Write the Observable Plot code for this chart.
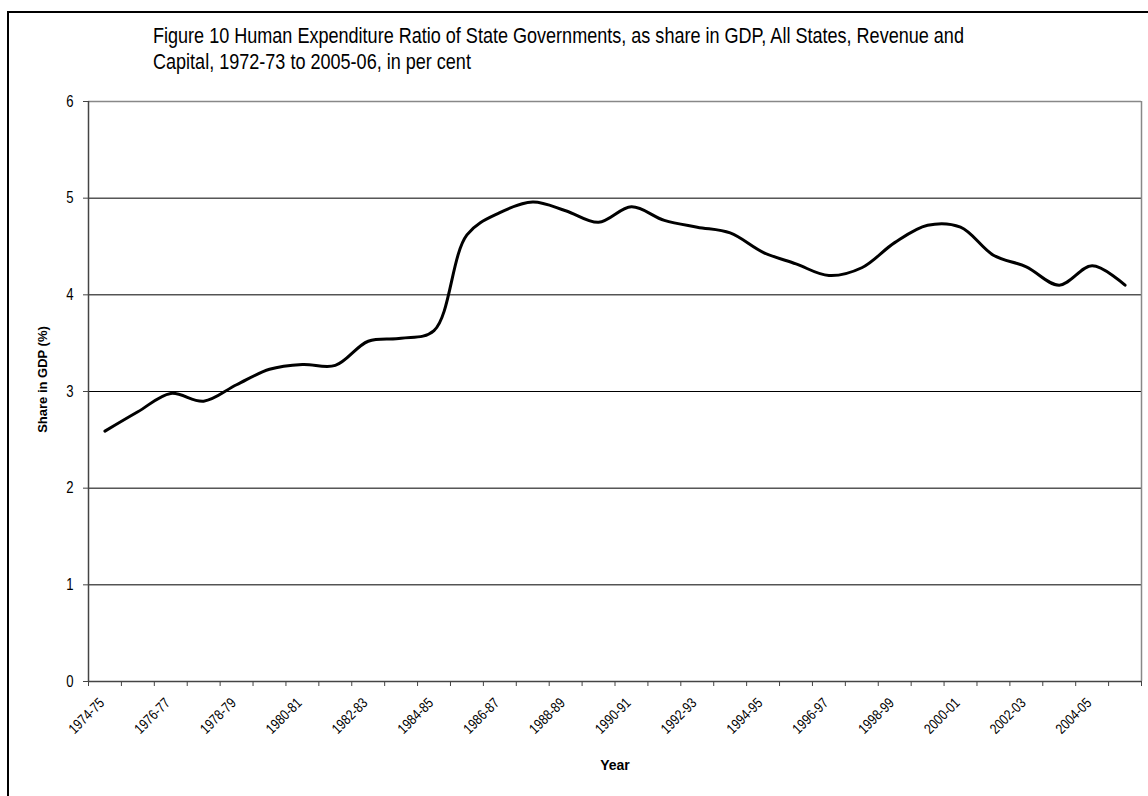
<!DOCTYPE html>
<html>
<head>
<meta charset="utf-8">
<script src="https://cdn.jsdelivr.net/npm/d3@7"></script>
<script src="https://cdn.jsdelivr.net/npm/@observablehq/plot@0.6"></script>
<style>
  html, body { margin: 0; padding: 0; background: #fff; }
  #wrap { position: relative; width: 1148px; height: 796px; overflow: hidden; }
  #frame { position: absolute; left: 7px; top: 11px; width: 1200px; height: 900px;
           border-left: 2px solid #000; border-top: 2px solid #000; }
  #title { position: absolute; left: 153px; top: 23px; font-family: "Liberation Sans", Arial, sans-serif;
           font-size: 22px; line-height: 26px; color: #000; white-space: nowrap;
           transform: scaleX(0.82); transform-origin: 0 0; }
  #chart { position: absolute; left: 0; top: 0; }
</style>
</head>
<body>
<div id="wrap">
  <div id="frame"></div>
  <div id="chart"></div>
  <div id="title">Figure 10 Human Expenditure Ratio of State Governments, as share in GDP, All States, Revenue and<br>Capital, 1972-73 to 2005-06, in per cent</div>
</div>
<script>
const years = ["1974-75","1975-76","1976-77","1977-78","1978-79","1979-80","1980-81","1981-82",
  "1982-83","1983-84","1984-85","1985-86","1986-87","1987-88","1988-89","1989-90",
  "1990-91","1991-92","1992-93","1993-94","1994-95","1995-96","1996-97","1997-98",
  "1998-99","1999-00","2000-01","2001-02","2002-03","2003-04","2004-05","2005-06"];
const share = [2.59, 2.79, 2.98, 2.90, 3.07, 3.23, 3.28, 3.27,
  3.52, 3.55, 3.63, 4.62, 4.85, 4.96, 4.87, 4.75,
  4.91, 4.77, 4.70, 4.64, 4.44, 4.32, 4.20, 4.28,
  4.54, 4.72, 4.70, 4.41, 4.29, 4.10, 4.30, 4.10];
const yTicks = [0, 1, 2, 3, 4, 5, 6];
const gridLines = [1, 2, 3, 4, 5];

const data = years.map((year, i) => ({i, year, share: share[i]}));
const boundaries = d3.range(years.length + 1).map(k => k - 0.5);
const labelIdx = d3.range(0, years.length, 2);

const sans = "'Liberation Sans', Arial, sans-serif";
const chart = Plot.plot({
  width: 1148,
  height: 796,
  marginLeft: 88,
  marginRight: 7,
  marginTop: 101,
  marginBottom: 115,
  style: {fontFamily: sans, background: "transparent", color: "#000"},
  x: {domain: [-0.5, years.length - 0.5]},
  y: {domain: [0, 6]},
  marks: [
    Plot.ruleY(gridLines, {stroke: "#000", strokeWidth: 1}),
    Plot.ruleY([yTicks[yTicks.length - 1]], {stroke: "#888", strokeWidth: 1.5}),
    Plot.ruleX([years.length - 0.5], {stroke: "#888", strokeWidth: 1.5}),
    Plot.axisY({ticks: yTicks, tickFormat: d => String(d), tickSize: 5, tickPadding: 10, fontSize: 16, stroke: "#444",
      label: "Share in GDP (%)", labelAnchor: "center", labelOffset: 51, labelArrow: "none"}),
    Plot.axisX({ticks: boundaries, tickFormat: () => "", tickSize: 5, stroke: "#444", label: null}),
    Plot.axisX({ticks: labelIdx, tickFormat: k => years[k], tickSize: 0, tickPadding: 19, dx: -3,
      tickRotate: -45, fontSize: 14.5, label: "Year", labelAnchor: "center", labelOffset: 88, labelArrow: "none"}),
    Plot.ruleX([-0.5], {stroke: "#444", strokeWidth: 1.5}),
    Plot.ruleY([0], {stroke: "#444", strokeWidth: 1.5}),
    Plot.line(data, {x: "i", y: "share", curve: "catmull-rom", stroke: "#000", strokeWidth: 3})
  ]
});
document.getElementById("chart").appendChild(chart);
const svg = d3.select(chart);
svg.selectAll('[aria-label="y-axis label"] text, [aria-label="y-axis label"]')
  .attr("font-weight", "bold").attr("font-size", 13);
svg.selectAll('g[aria-label="y-axis label"]').attr("transform", function() {
  const t = this.getAttribute("transform");
  return "translate(0,-12)" + (t ? " " + t : "");
});
svg.selectAll('[aria-label="x-axis label"] text, [aria-label="x-axis label"]')
  .attr("font-weight", "bold").attr("font-size", 14);
svg.selectAll('g[aria-label="x-axis tick label"] text, g[aria-label="y-axis tick label"] text').each(function() {
  const t = this.getAttribute("transform");
  if (t) this.setAttribute("transform", t + " scale(0.82,1)");
});
</script>
</body>
</html>
